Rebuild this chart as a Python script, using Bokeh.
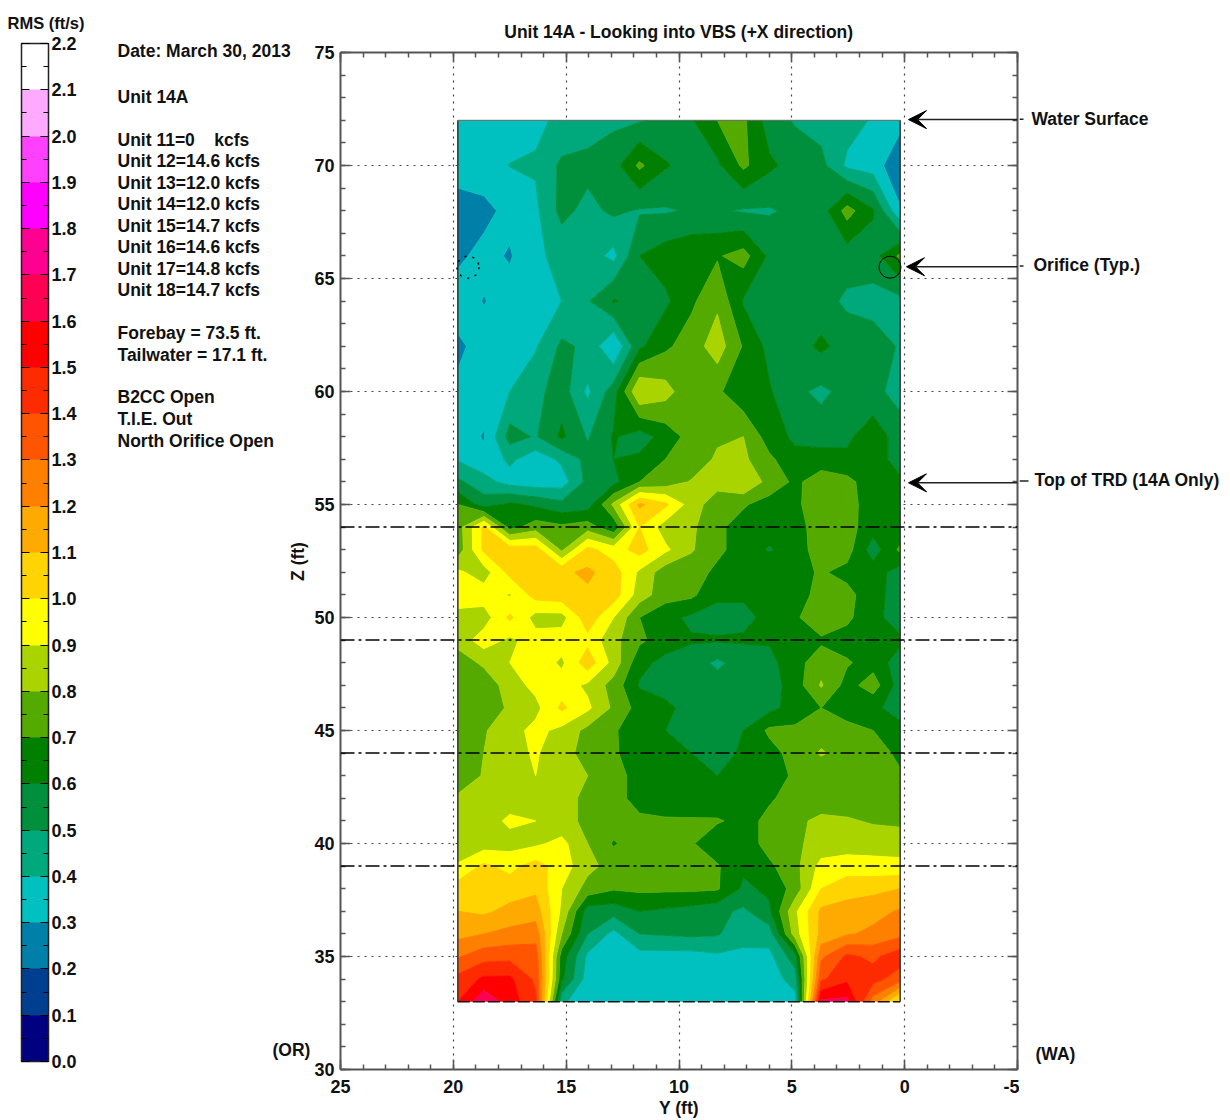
import numpy as np
from bokeh.plotting import figure
from bokeh.layouts import row
from bokeh.embed import file_html
from bokeh.resources import INLINE
from bokeh.core.properties import value
from bokeh.models import (Range1d, LinearAxis, FixedTicker, ColorBar, LinearColorMapper,
                          Arrow, VeeHead, CustomJSTickFormatter, Span, Title)

Y_COLS = [19.8,18.65,17.5,16.35,15.2,14.05,12.9,11.75,10.6,9.45,8.3,7.15,6.0,4.85,3.7,2.55,1.4,0.2]
Z_ROWS = [72,70,68,66,64,62,60,58,57,56,55,54,53,52,51,50,49,48,47,46,45,44,43,42,41,40,39,38,37,36,35,34,33]

RMS_Z72 = [.36,.36,.36,.38,.42,.45,.48,.49,.52,.59,.70,.72,.55,.49,.46,.44,.39,.33]
RMS_Z70 = [.35,.36,.402,.41,.52,.53,.56,.72,.61,.56,.58,.72,.62,.56,.53,.38,.35,.22]
RMS_Z68 = [.25,.27,.33,.38,.53,.47,.52,.49,.49,.51,.51,.49,.49,.52,.55,.74,.61,.31]
RMS_Z66 = [.28,.33,.29,.38,.43,.45,.37,.60,.65,.68,.69,.74,.58,.55,.55,.55,.56,.72]
RMS_Z64 = [.35,.295,.34,.37,.40,.49,.61,.55,.58,.68,.78,.59,.55,.55,.54,.48,.46,.47]
RMS_Z62 = [.28,.34,.35,.39,.52,.48,.30,.58,.68,.75,.85,.69,.57,.56,.62,.56,.55,.49]
RMS_Z60 = [.32,.35,.40,.47,.55,.38,.55,.90,.84,.72,.72,.62,.61,.52,.48,.53,.53,.46]
RMS_Z58 = [.37,.29,.54,.49,.62,.49,.61,.55,.64,.74,.78,.80,.65,.58,.55,.58,.66,.55]
RMS_Z57 = [.39,.33,.42,.34,.42,.53,.60,.62,.70,.72,.82,.82,.72,.63,.65,.62,.66,.55]
RMS_Z56 = [.52,.44,.36,.34,.35,.53,.57,.70,.74,.81,.84,.90,.76,.68,.75,.73,.64,.62]
RMS_Z55 = [.70,.55,.62,.58,.53,.55,.82,1.12,1.02,.85,.74,.71,.66,.68,.76,.73,.66,.62]
RMS_Z54 = [.75,1.02,.66,.75,.72,.75,.62,1.0,.85,.82,.72,.66,.65,.66,.75,.74,.64,.62]
RMS_Z53 = [.74,1.02,1.06,1.05,.78,1.03,.95,1.04,.92,.81,.72,.66,.59,.65,.75,.74,.55,.72]
RMS_Z52 = [.92,.85,1.03,1.08,1.08,1.12,1.05,.88,.74,.74,.68,.65,.68,.67,.71,.67,.65,.55]
RMS_Z51 = [.93,.95,.89,1.04,1.06,1.08,1.05,.85,.74,.72,.62,.61,.62,.66,.73,.73,.64,.55]
RMS_Z50 = [.88,.85,1.02,.86,.86,1.06,.90,.70,.63,.58,.56,.58,.62,.68,.79,.72,.63,.55]
RMS_Z49 = [.84,.95,.88,.94,.95,.97,.83,.72,.65,.61,.61,.61,.61,.61,.68,.66,.64,.62]
RMS_Z48 = [.74,.82,.90,.97,.88,1.06,.86,.63,.57,.55,.48,.55,.57,.66,.76,.71,.66,.55]
RMS_Z47 = [.75,.73,.85,.93,.95,.88,.76,.59,.55,.55,.54,.55,.55,.65,.81,.66,.75,.55]
RMS_Z46 = [.73,.72,.82,.87,1.02,.92,.78,.66,.63,.55,.55,.55,.57,.64,.70,.64,.62,.56]
RMS_Z45 = [.72,.79,.86,.93,.87,.77,.71,.65,.60,.55,.54,.60,.72,.72,.76,.74,.70,.63]
RMS_Z44 = [.72,.80,.87,.91,.84,.76,.71,.66,.63,.60,.55,.62,.66,.74,.81,.76,.74,.68]
RMS_Z43 = [.72,.81,.85,.90,.86,.80,.73,.67,.64,.62,.60,.63,.67,.71,.74,.74,.73,.71]
RMS_Z42 = [.82,.83,.85,.85,.83,.78,.72,.68,.65,.64,.63,.65,.69,.73,.75,.75,.74,.73]
RMS_Z41 = [.83,.85,.92,.90,.83,.78,.75,.71,.71,.71,.71,.67,.72,.78,.82,.81,.79,.78]
RMS_Z40 = [.84,.85,.86,.88,.93,.80,.69,.75,.74,.71,.63,.64,.74,.78,.84,.85,.85,.85]
RMS_Z39 = [.91,1.02,.97,1.04,.95,.83,.76,.74,.74,.73,.71,.62,.68,.77,.93,.95,.94,.93]
RMS_Z38 = [1.05,1.06,1.05,1.08,.90,.76,.71,.72,.72,.72,.71,.58,.62,.74,1.00,1.06,1.07,1.10]
RMS_Z37 = [1.10,1.08,1.13,1.15,.88,.55,.54,.60,.58,.56,.53,.48,.58,.88,1.12,1.14,1.17,1.21]
RMS_Z36 = [1.17,1.20,1.23,1.26,.80,.50,.37,.50,.51,.52,.51,.43,.45,.85,1.13,1.19,1.22,1.27]
RMS_Z35 = [1.29,1.36,1.37,1.35,.65,.38,.35,.36,.36,.36,.38,.38,.37,.56,1.28,1.42,1.38,1.46]
RMS_Z34 = [1.43,1.52,1.52,1.38,.62,.35,.33,.34,.34,.34,.34,.34,.34,.45,1.38,1.48,1.44,1.34]
RMS_Z33 = [1.50,1.68,1.55,1.42,.42,.33,.32,.32,.32,.32,.32,.32,.32,.36,1.62,1.63,1.25,.95]

RMS_LEVELS = [0.0,0.1,0.2,0.3,0.4,0.5,0.6,0.7,0.8,0.9,1.0,1.1,1.2,1.3,1.4,1.5,1.6,1.7,1.8,1.9,2.0,2.1,2.2]
PALETTE = ["#000080","#003F90","#0080A8","#00C0C0","#00A97B","#00903C","#007F00","#55AA00",
           "#AAD400","#FFFF00","#FFD400","#FFAA00","#FF8000","#FF5500","#FF2B00","#FF0000",
           "#FF0055","#FF0090","#FF00FF","#FF40FF","#FFAAFF","#FFFFFF"]
TRD_LEVELS = [54,49,44,39]
ORIFICE_Y = [0.65,19.35]
ORIFICE_Z = [65.5,65.5]
DATE_TEXT = "Date: March 30, 2013"
INFO_TEXT = ["Unit 14A","Unit 11=0\u00a0\u00a0\u00a0\u00a0kcfs","Unit 12=14.6 kcfs","Unit 13=12.0 kcfs",
             "Unit 14=12.0 kcfs","Unit 15=14.7 kcfs","Unit 16=14.6 kcfs","Unit 17=14.8 kcfs","Unit 18=14.7 kcfs",
             "Forebay = 73.5 ft.","Tailwater = 17.1 ft.","B2CC Open","T.I.E. Out","North Orifice Open"]
INFO_PY = [97,140,161,183,204,226,247,269,290,334,356,398,420,442]

FONT = "Liberation Sans"
FS = "17.5px"
L, T, W, H = 340, 52, 677, 1017
PAGE_H = 1116
LEFT_W = 310
RIGHT_X = L + W + 2
RIGHT_W = 1226 - RIGHT_X
PY_RANGE = (T + H, T)

def DX(px): return 25 - (px - L) * 30 / W

# ---- left panel: colour bar, notes
left = figure(width=LEFT_W, height=PAGE_H, x_range=Range1d(0, LEFT_W), y_range=Range1d(*PY_RANGE),
              x_axis_type=None, y_axis_type=None, min_border=0, output_backend="svg", toolbar_location=None)
left.outline_line_color = None
left.title.text = "RMS (ft/s)"
left.title.align = "left"; left.title.offset = 7; left.title.standoff = 27
left.title.vertical_align = "top"
left.title.text_font = FONT; left.title.text_font_size = "16.5px"; left.title.text_font_style = "bold"
left.title.text_color = "#111111"
left.add_layout(Title(text=DATE_TEXT, align="left", offset=117, standoff=-17, text_font=FONT, text_font_size=FS,
                      text_font_style="bold", text_color="#111111"), "above")

def txt(fig, s, px, py, align="left", angle=0, size=FS):
    fig.text([px], [py], text=[s], text_align=align, text_baseline="middle", angle=angle,
             text_font=value(FONT), text_font_size=size, text_font_style="bold", text_color="#111111")

for s, py in zip(INFO_TEXT, INFO_PY):
    txt(left, s, 117, py)
txt(left, "Z (ft)", 297, 563, align="center", angle=np.pi/2)
txt(left, "(OR)", 272, 1053)

mapper = LinearColorMapper(palette=PALETTE, low=RMS_LEVELS[0], high=RMS_LEVELS[-1])
cb = ColorBar(color_mapper=mapper, location=(21, T + H - 1061 - 4), width=27, height=1018, padding=0, margin=0,
              ticker=FixedTicker(ticks=RMS_LEVELS, minor_ticks=[v + 0.05 for v in RMS_LEVELS[:-1]]),
              major_label_overrides={v: f"{v:.1f}" for v in RMS_LEVELS},
              major_tick_in=27, major_tick_line_color="black", major_tick_line_width=1.2, major_tick_line_dash="8 11 8",
              minor_tick_in=27, minor_tick_line_color="black", minor_tick_line_width=1.2, minor_tick_line_dash="5 17 5",
              bar_line_color="#222222", bar_line_width=1.5, border_line_color=None, background_fill_color=None,
              major_label_text_font=FONT, major_label_text_font_style="bold", major_label_text_font_size="18px",
              major_label_text_color="#111111", label_standoff=3)
left.add_layout(cb)

# ---- main plot
p = figure(width=L - LEFT_W + W + 2, height=PAGE_H, frame_width=W, frame_height=H,
           min_border_left=L - LEFT_W, min_border_top=T, min_border_right=2, min_border_bottom=PAGE_H - T - H,
           x_range=Range1d(25, -5), y_range=Range1d(30, 75),
           output_backend="svg", toolbar_location=None, x_axis_location="below", y_axis_location="left")
p.outline_line_color = None
p.title.text = "Unit 14A - Looking into VBS (+X direction)"
p.title.align = "center"
p.title.text_font = FONT; p.title.text_font_size = FS; p.title.text_font_style = "bold"; p.title.text_color = "#111111"
p.title.standoff = 21
AX = "#555555"
def style_axis(a, is_x):
    a.ticker = FixedTicker(ticks=list(range(-5 if is_x else 30, 26 if is_x else 76, 5)),
                           minor_ticks=list(range(-5 if is_x else 30, 26 if is_x else 76)))
    a.axis_line_color = AX; a.axis_line_width = 2
    a.major_tick_line_color = AX; a.major_tick_line_width = 1.5
    a.minor_tick_line_color = AX; a.minor_tick_line_width = 1.5
    a.major_tick_in = 10; a.major_tick_out = 0; a.minor_tick_in = 5; a.minor_tick_out = 0
    a.major_label_text_font = FONT; a.major_label_text_font_style = "bold"
    a.major_label_text_font_size = "18px"; a.major_label_text_color = "#111111"
    a.major_label_standoff = 6

style_axis(p.xaxis[0], True); style_axis(p.yaxis[0], False)
p.xaxis[0].major_label_overrides = {-5: "-5"}
p.xaxis[0].major_label_standoff = 10
p.xaxis[0].axis_label = "Y (ft)"
p.xaxis[0].axis_label_text_font = FONT; p.xaxis[0].axis_label_text_font_size = FS
p.xaxis[0].axis_label_text_font_style = "bold"; p.xaxis[0].axis_label_text_color = "#111111"
p.xaxis[0].axis_label_standoff = 2
blank = CustomJSTickFormatter(code="return ''")
top = LinearAxis(formatter=blank); style_axis(top, True); top.major_label_standoff = 0; p.add_layout(top, "above")
right = LinearAxis(formatter=blank); style_axis(right, False); right.major_label_standoff = 0; p.add_layout(right, "right")
for g, t in ((p.xgrid[0], list(range(-5, 26, 5))), (p.ygrid[0], list(range(30, 76, 5)))):
    g.ticker = FixedTicker(ticks=t)
    g.grid_line_color = "#444444"; g.grid_line_dash = "2 5"; g.grid_line_width = 1.2

rows = [RMS_Z72,RMS_Z70,RMS_Z68,RMS_Z66,RMS_Z64,RMS_Z62,RMS_Z60,RMS_Z58,RMS_Z57,RMS_Z56,RMS_Z55,RMS_Z54,RMS_Z53,RMS_Z52,
        RMS_Z51,RMS_Z50,RMS_Z49,RMS_Z48,RMS_Z47,RMS_Z46,RMS_Z45,RMS_Z44,RMS_Z43,RMS_Z42,RMS_Z41,RMS_Z40,RMS_Z39,RMS_Z38,
        RMS_Z37,RMS_Z36,RMS_Z35,RMS_Z34,RMS_Z33]
XX, ZZ = np.meshgrid(Y_COLS, Z_ROWS)
p.contour(XX, ZZ, np.array(rows), RMS_LEVELS, fill_color=PALETTE,
          line_color=PALETTE + [PALETTE[-1]], line_width=1)

p.line([Y_COLS[0], Y_COLS[0]], [Z_ROWS[0], Z_ROWS[-1]], line_color="#333333", line_width=1.5)
p.line([Y_COLS[-1], Y_COLS[-1]], [Z_ROWS[0], Z_ROWS[-1]], line_color="#333333", line_width=1.5)
p.line([Y_COLS[0], Y_COLS[-1]], [Z_ROWS[-1], Z_ROWS[-1]], line_color="#111111", line_width=1.5, line_dash="12 3")
p.line([Y_COLS[0], Y_COLS[-1]], [Z_ROWS[0], Z_ROWS[0]], line_color="#666666", line_width=1)

for z in TRD_LEVELS:
    p.add_layout(Span(location=z, dimension="width", line_color="black", line_width=1.5, line_dash="14 4 3 4"))

p.scatter(ORIFICE_Y[:1], ORIFICE_Z[:1], size=22, marker="circle", fill_color=None, line_color="black", line_width=1)
p.scatter(ORIFICE_Y[1:], ORIFICE_Z[1:], size=22, marker="circle", fill_color=None, line_color="black",
          line_width=1.5, line_dash="2 6")

ARROW_Z = [72.03, 65.52, 55.96]
ARROW_TIP_PX = [908, 906, 908]
ARROW_TAIL_PX = [1023, 1023, 1028]
for z, tip in zip(ARROW_Z, ARROW_TIP_PX):
    p.add_layout(Arrow(end=VeeHead(size=18, fill_color="black", line_color="black"),
                       x_start=DX(L + W), y_start=z, x_end=DX(tip), y_end=z,
                       line_color="#222222", line_width=1.5))

# ---- right panel: call-outs
rp = figure(width=RIGHT_W, height=PAGE_H, x_range=Range1d(RIGHT_X, RIGHT_X + RIGHT_W), y_range=Range1d(*PY_RANGE),
            x_axis_type=None, y_axis_type=None, min_border=0, output_backend="svg", toolbar_location=None)
rp.outline_line_color = None
def Z2PY(z): return T + (75 - z) * H / 45
for z, tail in zip(ARROW_Z, ARROW_TAIL_PX):
    rp.line([RIGHT_X, tail], [Z2PY(z), Z2PY(z)], line_color="#222222", line_width=1.5)
txt(rp, "Water Surface", 1031, 119)
txt(rp, "Orifice (Typ.)", 1033, 265)
txt(rp, "Top of TRD (14A Only)", 1034, 481)
txt(rp, "(WA)", 1035, 1057)

open("out.html", "w").write(file_html(row(left, p, rp, spacing=0), INLINE))
